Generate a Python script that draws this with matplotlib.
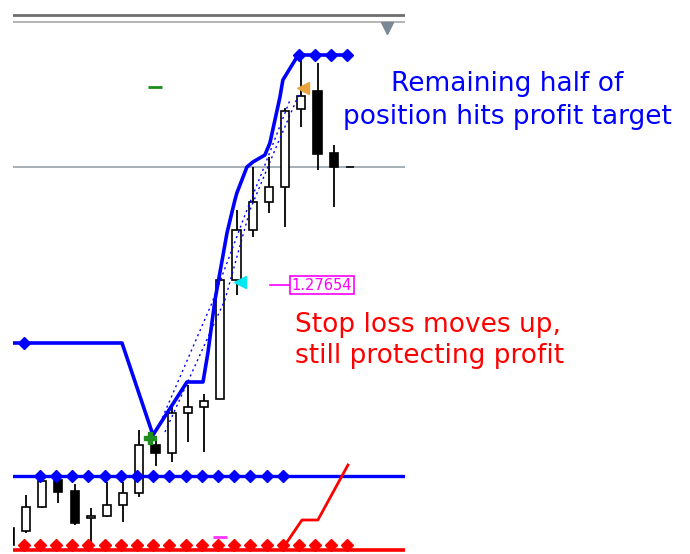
import matplotlib
matplotlib.use('Agg')
import matplotlib.pyplot as plt
import numpy as np

# candles: bar index and OHLC prices
bars = np.arange(-1, 21)
opens = [1.26439, 1.26424, 1.26544, 1.26679, 1.26624, 1.26489, 1.26499, 1.26554,
         1.26614, 1.26854, 1.26814, 1.27014, 1.27044, 1.27084, 1.27679, 1.27929,
         1.28069, 1.28144, 1.28534, 1.28624, 1.28314, 1.28244]
highs = [1.26454, 1.26604, 1.26689, 1.26689, 1.26659, 1.26539, 1.26669, 1.26669,
         1.26929, 1.26879, 1.27054, 1.27154, 1.27109, 1.27729, 1.28029, 1.28244,
         1.28294, 1.28539, 1.28779, 1.28764, 1.28354, 1.28244]
lows = [1.26329, 1.26414, 1.26539, 1.26564, 1.26454, 1.26364, 1.26494, 1.26469,
        1.26594, 1.26749, 1.26769, 1.26869, 1.26819, 1.27084, 1.27604, 1.27894,
        1.28014, 1.27944, 1.28444, 1.28229, 1.28044, 1.28244]
closes = [1.26354, 1.26544, 1.26674, 1.26619, 1.26464, 1.26499, 1.26554, 1.26614,
          1.26854, 1.26814, 1.27014, 1.27044, 1.27074, 1.27679, 1.27929, 1.28069,
          1.28144, 1.28524, 1.28599, 1.28309, 1.28244, 1.28244]

# trailing stop (blue)
trail_x = [-1, 5.93, 7.84, 9.94, 10.93, 11.23, 11.67, 11.98, 12.41, 12.90, 13.02,
           13.64, 14.01, 14.75, 15.06, 15.68, 15.86, 16.73, 16.85, 19.85]
trail_y = [1.27364, 1.27364, 1.26904, 1.27169, 1.27169, 1.27314, 1.27579, 1.27719,
           1.27914, 1.28079, 1.28114, 1.28244, 1.28269, 1.28304, 1.28364, 1.28594,
           1.28679, 1.28794, 1.28804, 1.28804]
trail_dot_bars = [0, 17, 18, 19, 20]
trail_dot_y = [1.27364, 1.28804, 1.28804, 1.28804, 1.28804]

# ghost trails (dotted)
ghost1_x = [8.15, 11.48, 13.52, 14.75, 16.30]
ghost1_y = [1.26939, 1.27564, 1.28004, 1.28254, 1.28579]
ghost2_x = [8.58, 12.28, 13.83, 15.37, 16.91]
ghost2_y = [1.26919, 1.27579, 1.28029, 1.28329, 1.28619]

# entry / break-even level (blue) and stop level (red)
entry_level = 1.26699
entry_bars = np.arange(1, 17)
stop_level = 1.26329
stop_marks = 1.26354
stop_bars = np.arange(0, 21)
stop_trail_x = [15.99, 17.04, 18.02, 19.88]
stop_trail_y = [1.26354, 1.26479, 1.26479, 1.26754]

bid_level = 1.28244
top_levels = [1.29004, 1.28969]
label_price = 1.27654

fig = plt.figure(figsize=(6.9, 5.54), dpi=100)
ax = fig.add_axes([13 / 690, 0, 392 / 690, 1])
ax.set_xlim(-0.80, 23.40)
ax.set_ylim(1.26309, 1.29079)
ax.axis('off')

blue = '#0000ff'
red = '#ff0000'
off = -0.15  # arrows are drawn a bit left of the bar

ax.axhline(top_levels[0], color='#6e6e6e', lw=2.0, zorder=1)
ax.axhline(top_levels[1], color='#b4b4b4', lw=1.4, zorder=1)
ax.plot(22.28, 1.28939, marker='v', color='#7a8896', ms=9, zorder=1)
ax.axhline(bid_level, color='#8c9aa6', lw=1.1, zorder=1)

# candles
for b, o, h, l, c in zip(bars, opens, highs, lows, closes):
    ax.vlines(b, l, h, color='black', lw=1.3, zorder=2)
    fc = 'white' if c >= o else 'black'
    ax.bar(b, c - o, bottom=o, width=0.5, facecolor=fc, edgecolor='black',
           lw=1.2, zorder=2)

# blue levels
ax.axhline(entry_level, color=blue, lw=2.4, zorder=3)
ax.plot(entry_bars + off, [entry_level] * len(entry_bars), 'D', color=blue, ms=6.5, zorder=3)
ax.plot(ghost1_x, ghost1_y, color=blue, lw=1.0, dashes=(1.5, 2.5), zorder=3)
ax.plot(ghost2_x, ghost2_y, color=blue, lw=1.0, dashes=(1.5, 2.5), zorder=3)
ax.plot(trail_x, trail_y, color=blue, lw=2.6, zorder=3)
ax.plot(np.array(trail_dot_bars) + off, trail_dot_y, 'D', color=blue, ms=6.5, zorder=3)

# red stop
ax.axhline(stop_level, color=red, lw=2.6, zorder=4)
ax.plot(stop_bars + off, [stop_marks] * len(stop_bars), 'D', color=red, ms=6.5, zorder=4)
ax.plot(stop_trail_x, stop_trail_y, color=red, lw=2.0, zorder=4)

# small markers
ax.plot(7.95, 1.28644, marker='_', color='#1a8c1a', ms=10, mew=2, zorder=5)
ax.plot(7.65, 1.26889, marker='P', color='#1e8c1e', ms=8, zorder=5)
ax.plot(12.0, 1.26394, marker='_', color='#ff33ff', ms=10, mew=2, zorder=5)
ax.plot(17.1, 1.28639, marker='<', color='#e8a33c', ms=8, zorder=5)
ax.plot(13.2, 1.27669, marker='<', color='#00e8f0', ms=9, zorder=5)

# price label
ax.plot([15.06, 16.30], [label_price, label_price], color='#ff00ff', lw=1.2, zorder=5)
ax.text(16.42, label_price, f'{label_price:.5f}', color='#ff00ff', fontsize=10.5,
        va='center', ha='left', zorder=5, clip_on=False,
        bbox=dict(boxstyle='square,pad=0.12', fc='white', ec='#ff00ff', lw=1.2))

fig.text(507 / 690, 1 - 71 / 554, 'Remaining half of\nposition hits profit target',
         color=blue, fontsize=19, ha='center', va='top', linespacing=1.33)
fig.text(295 / 690, 1 - 312 / 554, 'Stop loss moves up,\nstill protecting profit',
         color=red, fontsize=19, ha='left', va='top', linespacing=1.26)

plt.savefig('out.png', dpi=100)
plt.close()
